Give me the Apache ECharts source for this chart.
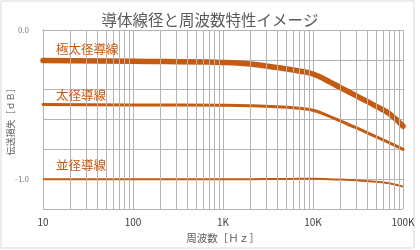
<!DOCTYPE html>
<html>
<head>
<meta charset="utf-8">
<script src="https://cdn.jsdelivr.net/npm/echarts@6/dist/echarts.min.js"></script>
<style>html,body{margin:0;padding:0;background:#fff}#c{width:420px;height:250px}</style>
</head>
<body>
<div id="c"></div>
<script>
var freqs = [10, 100, 1000, 2000, 4000, 7000, 10000, 15000, 20000, 30000, 50000, 70000, 100000];
var extraThick = [-0.205, -0.21, -0.218, -0.228, -0.252, -0.275, -0.295, -0.345, -0.385, -0.44, -0.51, -0.56, -0.645];
var thick = [-0.5, -0.502, -0.505, -0.508, -0.515, -0.525, -0.538, -0.578, -0.61, -0.655, -0.715, -0.755, -0.8];
var normal = [-1.0, -1.0, -1.0, -1.0, -0.999, -0.998, -0.998, -1.0, -1.003, -1.008, -1.017, -1.028, -1.05];
var seriesNames = ['極太径導線', '太径導線', '並径導線'];
var xTickLabels = {10: '10', 100: '100', 1000: '1K', 10000: '10K', 100000: '100K'};
var yTickLabels = {'0': '0.0', '-1': '-1.0'};
var minorGrid = [];
[10, 100, 1000, 10000].forEach(function (d) { for (var k = 2; k <= 9; k++) minorGrid.push(d * k); });

function pairs(vals) { return freqs.map(function (f, i) { return [f, vals[i]]; }); }

var chart = echarts.init(document.getElementById('c'), null, {renderer: 'canvas'});
var font = '"Noto Sans CJK JP", "Noto Sans", sans-serif';
var orange = '#C55A11';
chart.setOption({
  animation: false,
  backgroundColor: '#fff',
  textStyle: {fontFamily: font},
  title: {
    text: '導体線径と周波数特性イメージ',
    left: 'center', top: 7,
    textStyle: {fontFamily: font, fontSize: 15.5, fontWeight: 'normal', color: '#595959'}
  },
  grid: {left: 43, right: 17, top: 30, bottom: 41, containLabel: false, outerBoundsMode: 'none'},
  xAxis: {
    type: 'log', logBase: 10, min: 10, max: 100000,
    name: '周波数［Ｈｚ］', nameLocation: 'middle', nameGap: 24, nameMoveOverlap: false,
    nameTextStyle: {fontFamily: font, fontSize: 10.5, color: '#595959'},
    axisLine: {show: true, lineStyle: {color: '#B4B4B4'}},
    axisTick: {show: false},
    axisLabel: {
      margin: 8, fontSize: 10, color: '#404040', fontFamily: font,
      formatter: function (v) { return xTickLabels[Math.round(v)] || ''; }
    },
    splitLine: {show: true, lineStyle: {color: '#B4B4B4', width: 1}}
  },
  yAxis: {
    type: 'value', min: -1.2, max: 0, interval: 0.2,
    name: '伝送損失［ｄＢ］', nameLocation: 'middle', nameGap: 28, nameRotate: 90, nameMoveOverlap: false,
    nameTextStyle: {fontFamily: font, fontSize: 9, color: '#595959'},
    axisLine: {show: true, lineStyle: {color: '#B4B4B4'}},
    axisTick: {show: false},
    axisLabel: {
      margin: 14, fontSize: 8, color: '#7F7F7F', fontFamily: font,
      formatter: function (v) { var k = String(Math.round(v * 10) / 10); return yTickLabels[k] || ''; }
    },
    splitLine: {show: true, lineStyle: {color: '#B4B4B4', width: 1}}
  },
  graphic: [
    {type: 'rect', shape: {x: 1, y: 1, width: 413, height: 247}, style: {fill: 'none', stroke: '#D9D9D9', lineWidth: 1}, z: -1},
    {type: 'text', left: 56, top: 43, style: {text: seriesNames[0], font: 'normal 12.5px ' + font, fill: orange}, z: 10},
    {type: 'text', left: 56, top: 89, style: {text: seriesNames[1], font: 'normal 12.5px ' + font, fill: orange}, z: 10},
    {type: 'text', left: 56, top: 159, style: {text: seriesNames[2], font: 'normal 12.5px ' + font, fill: orange}, z: 10}
  ],
  series: [
    {
      type: 'line', data: [], z: 1, silent: true,
      markLine: {
        silent: true, symbol: 'none', animation: false,
        label: {show: false},
        lineStyle: {color: '#B4B4B4', width: 1, type: 'solid'},
        data: minorGrid.map(function (v) { return {xAxis: v}; })
      }
    },
    {name: seriesNames[0], type: 'line', data: pairs(extraThick), smooth: 0.5, showSymbol: false, z: 3,
     lineStyle: {color: orange, width: 5.5, cap: 'round', join: 'round'}},
    {name: seriesNames[1], type: 'line', data: pairs(thick), smooth: 0.5, showSymbol: false, z: 3,
     lineStyle: {color: orange, width: 3, cap: 'round', join: 'round'}},
    {name: seriesNames[2], type: 'line', data: pairs(normal), smooth: 0.5, showSymbol: false, z: 3,
     lineStyle: {color: orange, width: 2}}
  ]
});
</script>
</body>
</html>
